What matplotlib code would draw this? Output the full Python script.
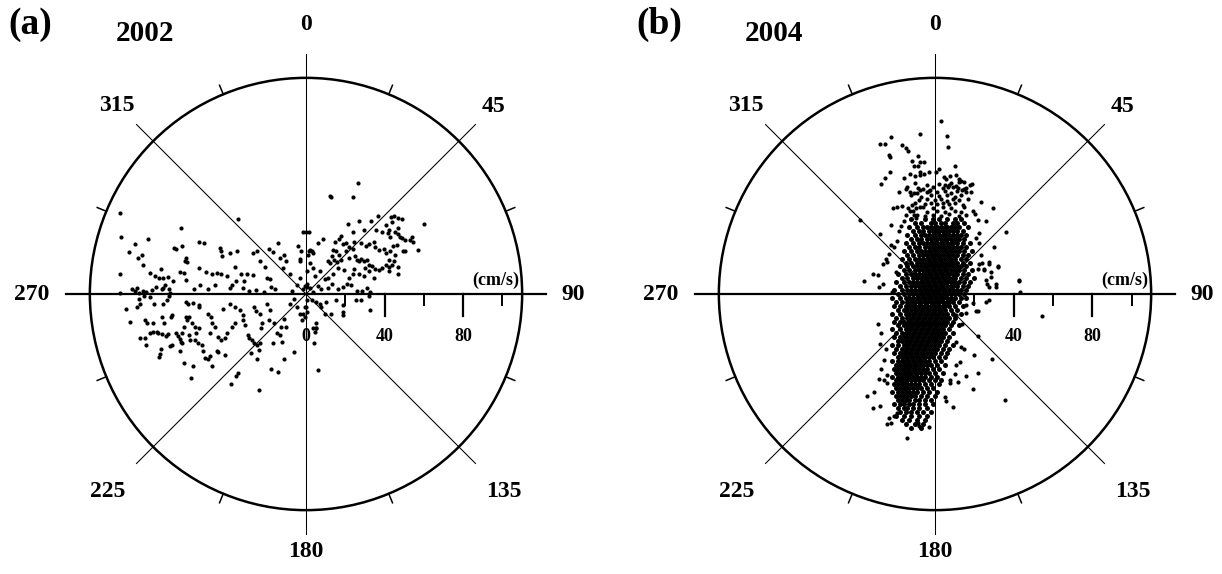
import numpy as np
import matplotlib
matplotlib.use("Agg")
import matplotlib.pyplot as plt
from matplotlib.patches import Circle

plt.rcParams["font.family"] = ["Liberation Serif", "DejaVu Serif"]
plt.rcParams["font.weight"] = "bold"

# ------------------------------------------------------------
# data: (east, north) velocity in cm/s
# ------------------------------------------------------------
pts_2002 = np.array([
    (-94.7, 41.3), (-94.3, 29.2), (-63.8, 33.7), (-34.7, 38), (-80.3, 28), (-87.2, 25.5), (-90, 21.3),
    (-83.5, 19.7), (-85.5, 18.3), (-82.7, 14.7), (-94.7, 10), (-67.2, 23.3), (-66, 23), (-63, 24.2),
    (-61.3, 18.3), (-61.7, 16.7), (-60.5, 16.3), (-54.3, 26.7), (-51.7, 25.8), (-43.8, 23.3), (-43.3, 21.7),
    (-42.7, 19.2), (-38.8, 20.8), (-35, 21.7), (-27.2, 20.8), (-24.7, 22), (-23.3, 16.7), (-18.8, 23),
    (-16.7, 21.3), (-14.3, 25.8), (-13, 18.3), (-11, 20), (-10, 16.7), (-4.3, 24.2), (-1.3, 31.7), (0, 31.7),
    (1.3, 31.7), (-2.7, 21.7), (1.7, 22), (3.7, 20.8), (-3.3, 18), (-3.3, 16.7),
    (-79.3, 10.8), (-76.7, 9.2), (-73.8, 12.5), (-74.7, 8.3), (-72.7, 8), (-70, 8.7), (-67.5, 6.7),
    (-64.3, 11.3), (-62.2, 10.8), (-61, 7), (-73, 3.3), (-71.7, 4.7), (-69.7, 2.5), (-54.3, 13.3),
    (-51, 11.3), (-48, 10), (-45.5, 10.8), (-43.3, 10.3), (-40, 9.2), (-36.3, 13.7), (-33, 10), (-31.7, 6.7),
    (-30, 10.3), (-27.2, 9.7), (-57.2, 2.5), (-53.8, 4.7), (-49.7, 2.5), (-46.3, 4.7), (-38.8, 3.3),
    (-37.7, 4.7), (-35.5, 6.7), (-32.2, 3.3), (-28.8, 1.3), (-25.5, 2), (-21.3, 0.8), (-18, 3.7), (-16, 2.5),
    (-21, 13.7), (-19.7, 8.3), (-18.3, 7.5), (-11.7, 13.3), (-8, 10), (-7.2, 1.3), (-4.7, 4.7), (-3.3, 8.3),
    (-0.5, 4.2), (0.7, 3.7), (-88.3, 2.5), (-87.2, 1.3), (-86, 3.3), (-85, 0.3), (-83, 1.7), (-81.3, 0.8),
    (-78.3, 2), (-76.3, 3.7), (-73.3, 2.5), (-69.3, 0.3), (-94.7, 0.3),
    (-91.7, -7.5), (-89.7, -14.2), (-86, -6.7), (-84.7, -5), (-85, -2.5), (-82.2, -0.8), (-79.3, -1.7),
    (-77.2, -5), (-73, -5), (-70.5, -3), (-69.7, -0.8), (-68, -10.8), (-68.8, -11.7), (-72.2, -15),
    (-73.3, -11.7), (-77.7, -15), (-76, -19.2), (-78, -19.2), (-79.3, -20), (-81.7, -13.3), (-80.8, -14.7),
    (-81.7, -22.5), (-84.7, -22.5), (-81.3, -25.8), (-75.5, -20), (-73.3, -20.3), (-71.3, -21.3), (-70, -20.3),
    (-68, -25.8), (-73.7, -28), (-74.3, -30.3), (-74.7, -32), (-69.3, -26.3), (-66.3, -20), (-65, -21.3),
    (-64.3, -23), (-63.8, -24.2), (-63, -20), (-62.2, -16.7), (-61.3, -11.7), (-59.7, -11.7), (-60.5, -13.3),
    (-61, -4.2), (-60, -5), (-57.7, -4.7), (-54.3, -6.7), (-54.7, -5.8), (-58, -15), (-56.3, -16.7), (-56, -20),
    (-54.3, -17.5), (-56.7, -23.3), (-55, -24.7), (-53, -25.8), (-52.2, -29.2), (-59.7, -20.8), (-58.8, -23.3),
    (-63, -25), (-64.3, -29.2), (-62.2, -35), (-57.7, -36.7), (-58.3, -42.5), (-51.3, -32.5), (-50, -33.3),
    (-48.8, -31.7), (-47.7, -36.7), (-45.5, -29.2), (-44.7, -29.7), (-49.7, -10), (-48.3, -11.7), (-48, -15),
    (-46.3, -16.7), (-48.8, -20), (-44.7, -21.7), (-43.3, -23.3), (-41.3, -22.5), (-40, -20), (-42.2, -7.5),
    (-38.8, -5), (-36.3, -6.7), (-33.8, -8.3), (-32.2, -10.8), (-37.7, -16.7), (-36.3, -15), (-32.2, -13.3),
    (-31, -15.8), (-29.7, -20.8), (-28.8, -22.5), (-27.7, -23.3), (-26.7, -24.7), (-24.7, -25.8), (-23.3, -24.7),
    (-41, -30.8), (-34.7, -40), (-35.5, -41.7), (-38.3, -45.8), (-23.8, -48.7), (-28, -30), (-23.8, -28.3),
    (-24.7, -33.3), (-26.3, -6.7), (-25.5, -8.7), (-23.3, -10.3), (-22.2, -15), (-22.7, -17.5), (-19.7, -5),
    (-18.3, -8.3), (-18.8, -13.3), (-16.3, -14.7), (-14.7, -20), (-13, -20.8), (-12.7, -16.7), (-11, -12.5),
    (-10, -16.7), (-16.7, -25), (-12.2, -24.2), (-18, -38.3), (-14.3, -39.7), (-11, -33), (-6.3, -29.7),
    (-8.3, -5), (-6.3, -2.5), (-4.7, -6.7), (-3, -10.3), (-2.2, -13.3), (-0.5, -11.7), (0, -6.7), (0.3, -9.2),
    (6.2, -38.7), (4, -25), (5, -17.5), (5.3, -15),
    (26.7, 56.7), (12.8, 49.2), (12.3, 50), (24, 49.5), (60.3, 35.8), (57, 22.5), (43.2, 39.2), (44.8, 39.7),
    (47, 38.7), (49, 38), (36.7, 39.7), (44, 36.7), (47, 33.7), (33.3, 37), (27, 37), (21.2, 35.8),
    (29.5, 32.5), (35.7, 32.5), (40.7, 35), (42, 32.5), (38.7, 31.7), (41.7, 30.8), (42.8, 29.2), (45.3, 31.7),
    (46.7, 30.3), (47.8, 29.2), (49, 28.3), (50.3, 27.5), (52.8, 27.5), (54, 29.2), (54.5, 26.7), (23.7, 31.3),
    (17.8, 29.7), (16.7, 28), (15, 26.7), (8.7, 28), (6.2, 25.8), (3.3, 21.7), (2, 22.5), (18.7, 25.3),
    (20.3, 25.8), (22, 23.7), (23.7, 23), (24.5, 26.7), (27.8, 25.8), (30.3, 24.2), (32.3, 25.3), (34.5, 26.7),
    (35.3, 23.7), (37.3, 22.5), (39.5, 23), (40.7, 20.8), (42.8, 22), (44.5, 24.2), (46.2, 25), (49.5, 22),
    (50.3, 21.7), (45.3, 19.7), (42, 17.5), (13.7, 22.5), (15.3, 21.7), (16.7, 20), (13.3, 19.2), (14.5, 17.5),
    (11.2, 16.7), (12, 15.8), (15.7, 16.3), (17.8, 17.5), (20.3, 21.7), (22, 18.3), (25, 19.2), (26.2, 17.5),
    (27, 16.7), (27.8, 18), (29.5, 16.7), (31.2, 17.5), (32, 15), (33.7, 14.2), (35.3, 12.5), (37, 12),
    (38.7, 13.3), (40.7, 15), (42, 13.7), (43.7, 15), (45, 16.7), (47, 13.7), (47, 10), (42.3, 11.7),
    (30, 13.3), (32, 11.7), (34.5, 8.3), (29.5, 9.2), (27, 10), (24.5, 12.5), (23.7, 10.3), (22, 8.3),
    (19.5, 12), (16.2, 13.3), (13.7, 10), (11.2, 8.3), (9.5, 7.5), (7, 11.7), (4.5, 9.2), (3.7, 13.3),
    (2, 15.8), (1.2, 20), (0.3, 11.7), (6.2, 4.2), (7.8, 2.5), (11.2, 3.3), (13.3, 5.3), (16.2, 2.5),
    (18.7, 3.7), (20.7, 5.3), (22.8, 4.7), (26.2, 1.3), (28.7, 1.3), (31.2, 3), (32.8, 0.8), (32.3, -0.8),
    (2.8, -3.3), (5, -4.2), (7, -5), (7.8, -6.7), (10.3, -4.2), (9.5, -10), (12.8, -10), (15.3, -3.3),
    (19, -5.8), (18.7, -9.2), (18.7, -10.8), (25.3, -3.3), (27.8, -3.3), (32.8, -8.3), (3.7, -17.5),
    (4.5, -19.2), (5, -17.5), (0.3, -3.3), (-0.5, -6.7), (-1.3, -10), (3.7, 0.8), (2, 3.3), (0.7, 5), (-1.3, 2.5),
])

pts_2004_sparse = np.array([
    (3, 87.8), (-7.5, 81.2), (-22.5, 79.8), (6.2, 80.3), (6.7, 75), (-27.8, 76.2), (-25.3, 76.2),
    (-16.7, 75.8), (-15, 74.5), (-13.7, 72.8), (-23.3, 70.7), (-22.8, 69.5), (-11.7, 67.8), (-8.8, 70),
    (-7.8, 67), (-5.5, 67), (-10.8, 65.3), (-8.8, 65), (-7.5, 62.3), (-22.8, 62), (-25.5, 59), (-27.5, 56.2),
    (-15.8, 59), (-12.5, 61.2), (-10, 60.3), (-7.8, 60.7), (-5.8, 61.2), (-3.3, 62.3), (0.5, 62), (2.2, 63.7),
    (4.5, 59.5), (5.8, 58.3), (7.8, 60.3), (10, 65), (10.5, 60.7), (12.2, 58.3), (13.3, 57.3), (5, 55.7),
    (6.7, 54.5), (8.3, 56.7), (10.5, 55), (11.7, 53.7), (13.8, 52.8), (15.8, 53.7), (17.8, 55.3), (18.8, 56.2),
    (18.3, 52), (15, 57), (-18.3, 52), (-15, 53.3), (-12.5, 52), (-10.8, 51.2), (-8.8, 54), (-7.5, 52.8),
    (-4.2, 52), (-2.5, 52.8), (-21.2, 44), (-19.2, 44.5), (-16.7, 45), (-13.8, 43.7), (-11.7, 45.3),
    (-9.5, 43.7), (-7.5, 44.5), (23.3, 47), (29.5, 44), (19.5, 42.3), (20.5, 40.7), (21.7, 37.8), (25.8, 37.3),
    (-38.3, 37.8), (-27.8, 30.7), (-22.2, 35.3), (-22.5, 25), (-23.3, 20.3), (-25, 17.8), (-26.7, 15.3),
    (-24.2, 16.2), (-31.7, 10.3), (-29.2, 9.5), (-36.2, 6.7), (-26.7, 5.3), (-28.3, 3.7), (-21.7, 1.2),
    (-20, 11.2), (36.2, 31.7), (30, 24), (32.2, 14), (28.3, 8.7), (25.8, 7.3), (30.8, 3.7), (42.8, 7),
    (43.3, 1.2), (25, 12.8), (27.5, 15.3), (23.8, 15.7), (23.3, 20), (22.5, 26.2), (20.8, 28.7), (22.2, 31.2),
    (-20.8, 23.7), (-19.2, 27), (-18.3, 32), (-17.2, 34.5), (-15.8, 37), (-15, 40), (-12.8, 42), (-10.8, 40),
    (-9.5, 38.7), (32.2, 13.7), (27.5, 16.2), (25, 12), (22.5, 15.3), (21.7, 12.8), (28.3, 11.2), (30.8, 5.3),
    (26.7, 5.3), (42.5, 6.7), (27.5, 3.7), (54.2, -11.3), (21.7, -8.8), (19.2, -4.7), (15.8, -5.7),
    (25.8, -4.3), (27.5, -3), (-14.5, -73.3), (-3.3, -67.7), (-8.3, -67.2), (-8.8, -65.5), (-22.5, -65.5),
    (-24.2, -66), (-23.3, -63), (-20.8, -62), (-19.2, -60.5), (-31.7, -58), (-27.8, -57.2), (-34.5, -51.7),
    (-31.2, -49.7), (-28.3, -43.3), (-25.8, -43.8), (-24.2, -45.5), (9.2, -57.7), (5.8, -54.7), (5, -52.2),
    (7.5, -45.5), (7.8, -43.8), (10, -40.5), (11.7, -44.7), (15.8, -41.7), (19.2, -48.3), (21.7, -40),
    (35.5, -53.8), (28.8, -33), (20, -31), (21.7, -21.3), (20.8, -8.8), (15.8, -9.7), (10.5, -10.5),
    (13.8, -15.5), (10.5, -24.3), (10.5, -36.3), (13.3, -27.2), (-29.2, -15.5), (-27.8, -25.5),
    (-27.5, -19.7), (-25, -28), (-25.8, -33.8), (-27.5, -38), (-24.2, -41.3), (15, -28), (12.8, -34.7),
    (-10, 56.5), (-4, 55.6), (2, 56.2), (7, 55.4), (12, 56.8), (-14, 54.3), (-6, 53.6), (-1, 54.5),
    (4, 53.8), (9, 54.6), (15, 53.5), (-9, 51.6), (-3, 52.4), (1, 51.8), (5, 52.5), (8, 51.5), (11, 52.2),
    (16, 51.7), (-12, 50.3), (-7, 49.6), (-2, 50.5), (2, 49.8), (6, 50.4), (10, 49.5), (13, 50.2),
    (-8, 47.6), (-4, 48.4), (0, 47.8), (3, 48.5), (6, 47.5), (9, 48.2), (12, 47.7), (17, 48.3),
    (-10, 46.4), (-5, 45.7), (-2, 46.3), (1, 45.6), (4, 46.5), (7, 45.8), (10, 46.2), (14, 45.5),
    (-6, 44.2), (-1, 43.6), (4, 44.4), (8, 43.8), (15, 44.1), (-11, 42.3), (-4, 41.7), (1, 42.4),
    (5, 41.6), (10, 42.2), (13, 41.5), (-9, 40.2), (-5, 39.6), (-1, 40.4), (3, 39.7), (7, 40.5),
    (12, 39.8), (16, 40.3),
])

# dense core of 2004, estimated row by row (north value, east values)
core_2004_v = [38, 36, 34, 32, 30, 28, 26, 24, 22, 20, 18, 16, 14,
               12, 10, 8, 6, 4, 2, 0, -2, -4, -6, -8, -10, -12, -14, -16, -18, -20, -22, -24, -26,
               -28, -30, -32, -34, -36, -38, -40, -42, -44, -46, -48, -50, -52, -54, -56, -58, -60,
               -62, -64, -66, -68]
core_2004_u = [
    [-12, -5, -1, 2, 6, 10, 13],
    [-10, -7, -2, 0, 3, 5, 9, 11, 15],
    [-13, -9, -6, -4, -2, 0, 1, 3, 5, 6, 8, 10, 12, 17],
    [-11, -8, -6, -3, -1, 1, 2, 4, 6, 7, 9, 11, 14],
    [-14, -10, -7, -5, -3, -1, 0, 2, 4, 5, 7, 9, 11, 13, 16],
    [-12, -9, -7, -4, -2, 0, 1, 3, 5, 6, 8, 10, 12, 15],
    [-15, -11, -8, -6, -4, -2, -1, 1, 3, 4, 6, 8, 9, 11, 14, 18],
    [-13, -10, -8, -5, -3, -1, 0, 2, 4, 5, 7, 9, 11, 13, 16],
    [-16, -12, -9, -7, -5, -3, -2, 0, 1, 3, 5, 6, 8, 10, 12, 15, 19],
    [-14, -11, -8, -6, -4, -2, -1, 1, 2, 4, 6, 7, 9, 11, 14, 17],
    [-17, -13, -10, -8, -6, -4, -3, -1, 0, 2, 3, 5, 7, 8, 10, 13, 16],
    [-15, -12, -9, -7, -5, -3, -2, 0, 1, 3, 4, 6, 8, 9, 11, 14, 18],
    [-18, -14, -11, -9, -7, -5, -4, -2, -1, 1, 2, 4, 5, 7, 9, 11, 13, 16],
    [-16, -13, -10, -8, -6, -4, -3, -1, 0, 2, 3, 5, 6, 8, 10, 12, 15, 19],
    [-19, -15, -12, -10, -8, -6, -5, -3, -2, 0, 1, 3, 4, 6, 7, 9, 11, 14, 17],
    [-17, -14, -11, -9, -7, -5, -4, -2, -1, 1, 2, 4, 5, 7, 9, 10, 13, 16, 20],
    [-20, -16, -13, -11, -9, -7, -6, -4, -3, -1, 0, 2, 3, 5, 6, 8, 10, 12, 15, 18],
    [-18, -15, -12, -10, -8, -6, -5, -3, -2, 0, 1, 3, 4, 6, 8, 9, 11, 14, 17],
    [-21, -17, -14, -12, -10, -8, -7, -5, -4, -2, -1, 1, 2, 4, 5, 7, 9, 11, 13, 16],
    [-19, -16, -13, -11, -9, -7, -6, -4, -3, -1, 0, 2, 3, 5, 6, 8, 10, 12, 15],
    [-22, -18, -15, -13, -11, -9, -8, -6, -5, -3, -2, 0, 1, 3, 4, 6, 8, 10, 13, 16],
    [-20, -17, -14, -12, -10, -8, -7, -5, -4, -2, -1, 1, 2, 4, 6, 7, 9, 12],
    [-21, -18, -15, -13, -11, -10, -8, -7, -5, -4, -2, -1, 1, 2, 4, 5, 7, 10, 14],
    [-19, -16, -14, -12, -10, -9, -7, -6, -4, -3, -1, 0, 2, 3, 5, 8, 11],
    [-22, -18, -15, -13, -11, -10, -8, -7, -5, -4, -2, -1, 1, 2, 4, 6, 9, 13],
    [-20, -17, -14, -12, -11, -9, -8, -6, -5, -3, -2, 0, 1, 3, 5, 7, 10],
    [-21, -18, -16, -13, -12, -10, -9, -7, -6, -4, -3, -1, 0, 2, 4, 6, 9],
    [-19, -16, -14, -12, -11, -9, -8, -6, -5, -3, -2, 0, 1, 3, 5, 8, 12],
    [-22, -18, -15, -13, -12, -10, -9, -7, -6, -4, -3, -1, 0, 2, 4, 7],
    [-20, -17, -15, -13, -11, -10, -8, -7, -5, -4, -2, -1, 1, 3, 5, 9],
    [-21, -18, -16, -14, -12, -11, -9, -8, -6, -5, -3, -2, 0, 2, 4, 7],
    [-19, -17, -15, -13, -12, -10, -9, -7, -6, -4, -3, -1, 1, 3, 6],
    [-22, -19, -16, -14, -13, -11, -10, -8, -7, -5, -4, -2, 0, 2, 5, 9],
    [-20, -17, -15, -14, -12, -11, -9, -8, -6, -5, -3, -1, 1, 4, 7],
    [-21, -18, -16, -15, -13, -12, -10, -9, -7, -6, -4, -2, 0, 3, 6],
    [-19, -17, -15, -14, -12, -11, -9, -8, -6, -5, -3, -1, 2, 5],
    [-22, -19, -17, -16, -14, -13, -11, -10, -8, -7, -5, -3, 0, 3],
    [-20, -18, -16, -15, -13, -12, -10, -9, -7, -6, -4, -2, 1, 5],
    [-21, -19, -17, -16, -14, -13, -11, -10, -8, -6, -4, -1, 2],
    [-20, -18, -16, -15, -13, -12, -10, -9, -7, -5, -3, 0, 4],
    [-22, -19, -17, -16, -14, -13, -11, -9, -7, -5, -2, 1],
    [-20, -18, -17, -15, -14, -12, -10, -8, -6, -3, 0, 3],
    [-21, -19, -17, -16, -14, -12, -10, -8, -5, -2, 2],
    [-20, -18, -16, -15, -13, -11, -9, -7, -4, -1],
    [-22, -19, -17, -15, -13, -11, -9, -6, -3, 1],
    [-20, -18, -16, -14, -12, -10, -7, -4, 0],
    [-19, -17, -15, -13, -10, -8, -5, -2],
    [-21, -18, -16, -13, -11, -8, -5, -1],
    [-19, -16, -14, -11, -8, -4],
    [-18, -15, -12, -9, -6, -2],
    [-20, -16, -12, -8, -4],
    [-17, -13, -9, -5],
    [-15, -10, -6],
    [-12, -7],
]

dir_angles = [0, 45, 90, 135, 180, 225, 270, 315]
dir_labels = ["0", "45", "90", "135", "180", "225", "270", "315"]
speed_minor = [20, 60, 100]
speed_major = [40, 80]
speed_labels = ["0", "40", "80"]

# ------------------------------------------------------------
# layout (pixels -> cm/s)
# ------------------------------------------------------------
W, H = 1222, 574
SCALE = 1.965          # px per cm/s
CY = 294
R_CIRCLE = 110
R_LINE = 122
label_r = [137, 135, 136, 142.5, 131, 142.5, 139.5, 136]

fig = plt.figure(figsize=(W / 100, H / 100), dpi=100)


def make_axes(left_px, right_px, cx):
    ax = fig.add_axes([left_px / W, 0, (right_px - left_px) / W, 1])
    ax.set_xlim((left_px - cx) / SCALE, (right_px - cx) / SCALE)
    ax.set_ylim(-(H - CY) / SCALE, CY / SCALE)
    ax.axis("off")
    return ax


def draw_panel(ax, letter, year):
    # compass lines
    for ang in dir_angles:
        t = np.deg2rad(ang)
        lw = 1.6 if ang in (90, 270) else 0.75
        ax.plot([0, R_LINE * np.sin(t)], [0, R_LINE * np.cos(t)], color="black", lw=lw, zorder=1)
    ax.add_patch(Circle((0, 0), R_CIRCLE, fill=False, ec="black", lw=1.8, zorder=2))
    # small outer ticks between directions
    for ang in np.arange(22.5, 360, 45):
        t = np.deg2rad(ang)
        ax.plot([R_CIRCLE * np.sin(t), (R_CIRCLE + 5) * np.sin(t)],
                [R_CIRCLE * np.cos(t), (R_CIRCLE + 5) * np.cos(t)], color="black", lw=1.1, zorder=2)
    # direction labels
    for ang, lab, r in zip(dir_angles, dir_labels, label_r):
        t = np.deg2rad(ang)
        ax.text(r * np.sin(t), r * np.cos(t), lab, fontsize=17, fontweight="bold",
                ha="center", va="center")
    # speed scale on east axis
    for s in speed_minor:
        ax.plot([s, s], [0, -5.6], color="black", lw=1.4, zorder=1)
    for s in speed_major:
        ax.plot([s, s], [0, -11], color="black", lw=1.6, zorder=1)
    for s, lab in zip([0] + speed_major, speed_labels):
        ax.text(s, -21.4, lab, fontsize=13, fontweight="bold", ha="center", va="center", zorder=2)
    ax.text(108.4, 2.5, "(cm/s)", fontsize=13, fontweight="bold", ha="right", va="bottom", zorder=2)
    # panel labels
    ax.text(-140.5, 137.4, letter, fontsize=27, fontweight="bold", ha="center", va="center")
    ax.text(-82, 132.6, year, fontsize=21, fontweight="bold", ha="center", va="center")


ax_a = make_axes(0, 611, 306)
draw_panel(ax_a, "(a)", "2002")
ax_a.scatter(pts_2002[:, 0], pts_2002[:, 1], s=9, c="black", linewidths=0, zorder=3)

core = np.array([(u, v) for v, row in zip(core_2004_v, core_2004_u) for u in row], dtype=float)
ax_b = make_axes(611, 1222, 935)
draw_panel(ax_b, "(b)", "2004")
ax_b.scatter(pts_2004_sparse[:, 0], pts_2004_sparse[:, 1], s=9, c="black", linewidths=0, zorder=3)
ax_b.scatter(core[:, 0], core[:, 1], s=13, c="black", linewidths=0, zorder=3)

fig.savefig("out.png", dpi=100)
